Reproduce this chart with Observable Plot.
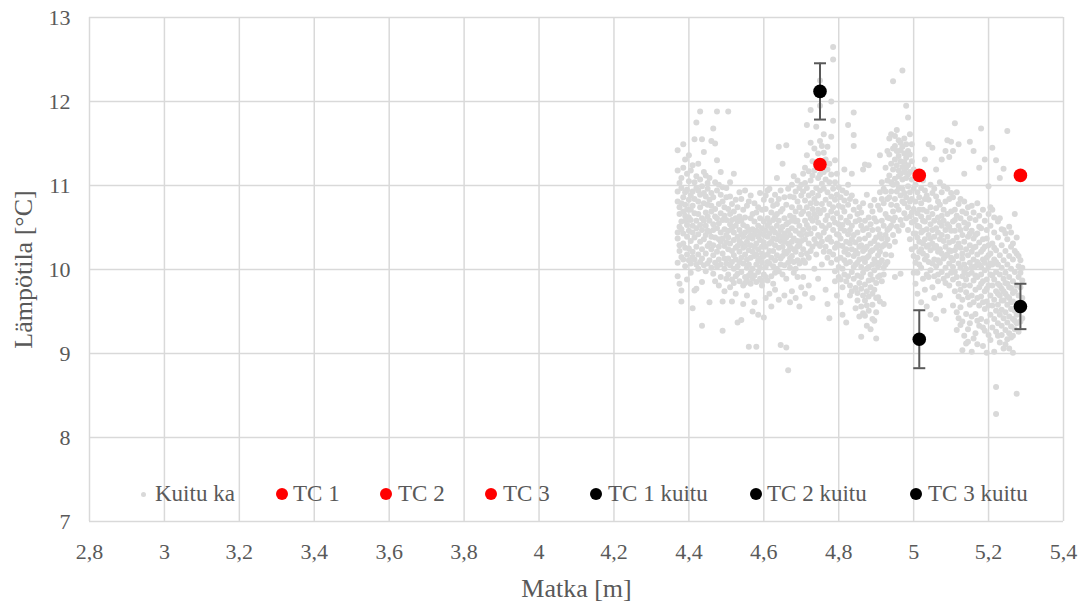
<!DOCTYPE html>
<html>
<head>
<meta charset="utf-8">
<script src="https://cdn.jsdelivr.net/npm/d3@7"></script>
<script src="https://cdn.jsdelivr.net/npm/@observablehq/plot@0.6"></script>
<style>
  body { margin: 0; background: #fff; }
  #wrap { position: relative; width: 1085px; height: 605px; font-family: "Liberation Serif", "Times New Roman", serif; }
  .legdot { position: absolute; border-radius: 50%; }
  .legtxt { position: absolute; font-size: 23px; color: #595959; line-height: 1; white-space: nowrap; }
</style>
</head>
<body>
<div id="wrap"></div>
<script>
// ---- data ----
const xTicks = [2.8, 3, 3.2, 3.4, 3.6, 3.8, 4, 4.2, 4.4, 4.6, 4.8, 5, 5.2, 5.4];
const yTicks = [7, 8, 9, 10, 11, 12, 13];

// TC sensor positions and readings
const tcX = [4.75, 5.015, 5.285];
const tcY = [11.25, 11.12, 11.12];
const tcKuituY = [12.12, 9.17, 9.56];
const tcKuituErr = [0.335, 0.345, 0.27];

const kuituRows = [
[4.370, 10.08, 10.37, 10.44, 10.81, 10.93, 11.18, 9.92, 11.42],
[4.375, 10.22, 10.29, 10.66, 10.74, 11.03, 9.83, 10.51],
[4.380, 10.15, 10.48, 10.57, 10.97, 11.09, 9.75, 9.62, 10.79],
[4.385, 10.31, 10.12, 10.69, 10.86, 11.49, 10.43, 11.21],
[4.390, 10.04, 10.58, 10.64, 10.92, 11.31, 10.26, 10.77],
[4.395, 10.39, 10.18, 10.71, 11.14, 9.88, 10.53, 10.95],
[4.400, 10.25, 10.46, 10.83, 10.62, 11.36, 10.11, 11.05],
[4.405, 10.34, 10.07, 10.59, 10.88, 11.18, 9.96, 10.71],
[4.410, 10.21, 10.44, 10.76, 10.93, 9.54, 10.15, 11.24, 10.52],
[4.415, 10.38, 10.12, 10.67, 11.04, 11.55, 9.75, 10.84],
[4.420, 10.27, 10.49, 10.58, 10.97, 11.75, 9.77, 10.06, 11.11],
[4.425, 10.42, 10.18, 10.81, 10.66, 11.26, 10.01, 10.94],
[4.430, 10.09, 10.33, 10.74, 10.53, 11.88, 11.07, 10.89],
[4.435, 10.24, 10.61, 10.47, 10.99, 11.55, 9.85, 9.33, 10.13],
[4.440, 10.36, 10.05, 10.79, 10.58, 11.4, 11.16, 10.91],
[4.445, 10.19, 10.52, 10.41, 10.87, 11.12, 10.68, 9.98],
[4.450, 10.28, 10.07, 10.63, 10.96, 10.46, 11.03, 10.77],
[4.455, 10.31, 10.11, 10.58, 10.83, 9.61, 11.09, 10.45],
[4.460, 10.02, 10.24, 10.69, 10.91, 11.53, 10.39, 10.76],
[4.465, 10.17, 10.54, 10.47, 11.68, 9.95, 10.86, 10.29],
[4.470, 10.38, 10.08, 10.72, 10.63, 11.5, 9.86, 11.04],
[4.475, 10.21, 10.49, 10.94, 11.88, 10.03, 11.3, 10.61],
[4.480, 10.12, 10.36, 10.78, 10.55, 11.01, 9.81, 10.27],
[4.485, 10.44, 10.06, 10.67, 10.89, 9.91, 11.16, 10.33],
[4.490, 10.19, 10.59, 10.37, 10.81, 9.62, 9.27, 10.98],
[4.495, 10.28, 10.01, 10.48, 10.74, 10.64, 9.74, 10.13],
[4.500, 10.07, 10.41, 10.32, 10.86, 10.59, 9.89, 10.97],
[4.505, 10.13, 9.94, 10.46, 10.38, 11.88, 10.72, 10.24],
[4.510, 10.31, 10.05, 10.66, 10.54, 9.79, 11.04, 10.87],
[4.515, 9.88, 10.22, 10.49, 10.78, 9.62, 10.09, 10.59],
[4.520, 10.17, 10.35, 10.01, 10.69, 9.84, 11.14, 10.44],
[4.525, 10.26, 9.92, 10.52, 10.83, 10.12, 9.71, 10.61],
[4.530, 10.04, 10.39, 10.28, 10.74, 9.37, 10.57, 9.95],
[4.535, 10.21, 9.86, 10.47, 10.63, 10.92, 10.09, 10.34],
[4.540, 9.97, 10.31, 10.14, 10.58, 9.4, 10.84, 10.42],
[4.545, 10.26, 10.07, 10.53, 10.39, 9.81, 9.59, 10.71],
[4.550, 9.91, 10.18, 10.44, 10.62, 9.84, 10.94, 10.28],
[4.555, 10.12, 10.33, 9.87, 10.76, 10.51, 9.69, 10.02],
[4.560, 10.23, 10.06, 10.47, 10.38, 9.08, 10.81, 9.93],
[4.565, 9.83, 10.14, 10.29, 10.61, 9.96, 10.88, 10.41],
[4.570, 10.01, 10.37, 10.21, 10.66, 9.5, 10.48, 9.89],
[4.575, 10.16, 9.93, 10.42, 10.57, 10.79, 9.61, 10.27],
[4.580, 10.06, 10.31, 9.85, 10.68, 9.08, 10.46, 10.18],
[4.585, 10.24, 9.97, 10.52, 10.39, 10.74, 9.46, 10.11],
[4.590, 9.89, 10.13, 10.35, 10.61, 10.02, 10.91, 10.44],
[4.595, 10.08, 10.27, 9.81, 10.49, 10.71, 9.86, 10.19],
[4.600, 10.32, 9.94, 10.16, 10.57, 10.83, 9.43, 10.41],
[4.605, 10.03, 10.27, 10.46, 9.91, 10.72, 9.66, 10.88],
[4.610, 10.18, 9.87, 10.39, 10.61, 10.94, 10.09, 10.52],
[4.615, 10.31, 10.07, 10.56, 10.43, 9.71, 10.96, 10.22],
[4.620, 9.92, 10.14, 10.49, 10.68, 10.82, 9.56, 10.33],
[4.625, 10.22, 10.04, 10.37, 10.76, 10.59, 9.83, 10.47],
[4.630, 10.11, 10.44, 9.96, 10.63, 10.89, 9.76, 10.29],
[4.635, 10.36, 10.17, 10.52, 10.78, 10.01, 11.09, 10.66],
[4.640, 9.98, 10.26, 10.41, 10.58, 11.46, 9.64, 10.84],
[4.645, 10.13, 10.34, 10.69, 10.47, 9.1, 10.94, 10.06],
[4.650, 10.27, 9.94, 10.51, 10.72, 11.26, 10.39, 10.16],
[4.655, 10.05, 10.43, 10.21, 10.61, 9.69, 10.86, 10.33],
[4.660, 10.19, 10.38, 9.89, 10.77, 11.48, 9.07, 10.54],
[4.665, 10.31, 10.08, 10.56, 10.46, 8.8, 10.96, 10.22],
[4.670, 10.02, 10.27, 10.64, 10.41, 10.87, 9.61, 10.13],
[4.675, 10.16, 10.49, 10.33, 10.74, 11.01, 9.74, 10.58],
[4.680, 10.37, 10.09, 10.62, 10.86, 9.96, 11.11, 10.24],
[4.685, 10.21, 10.46, 10.01, 10.69, 10.93, 9.66, 10.57],
[4.690, 10.11, 10.34, 10.58, 10.81, 10.27, 11.06, 9.91],
[4.695, 10.29, 10.52, 10.07, 10.74, 10.43, 9.56, 10.97],
[4.700, 10.18, 10.41, 10.66, 10.34, 11.01, 9.79, 10.88],
[4.705, 10.24, 10.47, 10.69, 10.93, 11.14, 9.91, 10.11],
[4.710, 10.36, 10.08, 10.58, 10.82, 11.21, 9.71, 11.03],
[4.715, 10.19, 10.53, 10.74, 10.97, 11.72, 11.36, 10.42],
[4.720, 10.31, 10.66, 10.14, 10.88, 11.17, 9.81, 10.49],
[4.725, 10.43, 10.22, 10.79, 11.06, 11.9, 11.51, 10.61],
[4.730, 10.27, 10.58, 10.91, 10.72, 11.29, 9.66, 11.12],
[4.735, 10.49, 10.36, 10.84, 11.18, 11.44, 10.01, 10.66],
[4.740, 10.31, 10.62, 10.97, 10.79, 11.7, 11.24, 10.18],
[4.745, 10.56, 10.41, 10.88, 11.09, 11.38, 9.89, 10.71],
[4.750, 10.39, 10.67, 10.94, 11.13, 11.53, 12.25, 11.95, 10.28],
[4.755, 10.52, 10.78, 10.33, 11.02, 11.47, 10.06, 11.26],
[4.760, 10.44, 10.71, 10.96, 11.16, 11.39, 11.61, 10.21],
[4.765, 10.27, 10.59, 10.83, 11.07, 11.31, 9.76, 10.49],
[4.770, 10.36, 10.64, 10.14, 10.92, 11.46, 9.59, 11.19],
[4.775, 10.21, 10.53, 10.78, 11.04, 11.26, 9.42, 10.38],
[4.780, 10.33, 10.08, 10.69, 10.87, 11.58, 12.0, 11.13],
[4.785, 10.18, 10.47, 10.74, 10.96, 12.65, 12.5, 11.77, 10.61],
[4.790, 10.26, 9.98, 10.56, 10.83, 11.3, 9.86, 11.04],
[4.795, 10.12, 10.42, 10.67, 10.31, 11.14, 9.69, 10.89],
[4.800, 10.03, 10.29, 10.54, 10.76, 10.98, 9.91, 10.41],
[4.805, 10.14, 9.88, 10.37, 10.62, 10.86, 9.61, 10.49],
[4.810, 10.01, 10.28, 9.79, 10.53, 10.74, 9.46, 10.94],
[4.815, 10.21, 9.94, 10.46, 10.69, 10.11, 11.19, 10.82],
[4.820, 10.07, 10.33, 9.86, 10.58, 10.91, 9.37, 10.24],
[4.825, 9.92, 10.18, 10.42, 10.77, 11.72, 11.01, 10.56],
[4.830, 10.09, 9.81, 10.31, 10.63, 10.47, 9.69, 10.84],
[4.835, 10.24, 9.97, 10.52, 10.36, 10.88, 11.14, 9.74],
[4.840, 9.89, 10.16, 10.41, 10.71, 11.87, 11.6, 11.47, 10.03],
[4.845, 10.06, 10.32, 9.78, 10.57, 10.81, 9.54, 10.22],
[4.850, 9.93, 10.19, 10.44, 9.72, 10.66, 9.63, 10.08],
[4.855, 10.12, 9.84, 10.36, 10.59, 10.27, 9.44, 10.74],
[4.860, 9.77, 10.03, 10.29, 9.91, 10.52, 9.2, 10.68, 9.56],
[4.865, 9.96, 10.22, 9.69, 10.47, 10.13, 11.19, 10.79, 9.48],
[4.870, 9.82, 10.09, 10.37, 9.63, 10.58, 9.45, 11.25, 10.24],
[4.875, 10.01, 9.74, 10.27, 10.49, 10.89, 9.33, 10.14, 9.57],
[4.880, 9.87, 10.16, 9.68, 10.41, 10.62, 11.24, 10.03, 9.51],
[4.885, 9.94, 10.31, 9.79, 10.54, 10.21, 9.29, 10.76],
[4.890, 9.71, 10.06, 10.23, 9.88, 10.47, 9.41, 10.69, 9.58],
[4.895, 9.99, 9.76, 10.34, 10.12, 10.61, 9.39, 10.83],
[4.900, 9.84, 10.08, 9.66, 10.38, 10.57, 9.18, 10.26, 9.49],
[4.905, 10.04, 9.91, 10.29, 10.48, 10.76, 9.67, 10.17],
[4.910, 9.93, 10.21, 10.42, 10.08, 10.71, 11.36, 10.92, 9.62],
[4.915, 10.11, 9.86, 10.37, 10.58, 10.84, 11.04, 10.27],
[4.920, 10.02, 10.29, 10.52, 9.94, 10.79, 9.59, 10.96],
[4.925, 10.18, 10.41, 10.06, 10.66, 10.93, 11.21, 10.31],
[4.930, 10.09, 10.36, 10.62, 10.47, 11.06, 11.41, 10.84],
[4.935, 10.28, 10.61, 10.86, 11.12, 11.37, 11.56, 10.49],
[4.940, 10.17, 10.52, 10.77, 11.04, 11.26, 11.61, 10.93],
[4.945, 10.41, 10.69, 11.01, 11.19, 11.44, 12.24, 10.58],
[4.950, 10.33, 10.84, 11.08, 11.31, 11.59, 9.91, 10.62, 11.47],
[4.955, 10.51, 10.76, 11.02, 11.24, 11.41, 11.66, 10.93],
[4.960, 10.46, 10.71, 10.97, 11.18, 11.35, 11.54, 11.11],
[4.965, 10.59, 10.88, 11.14, 11.29, 11.51, 9.95, 11.42],
[4.970, 10.53, 10.81, 11.07, 11.22, 11.46, 12.37, 10.96],
[4.975, 10.67, 10.91, 11.16, 11.38, 11.56, 11.28, 10.79],
[4.980, 10.61, 10.86, 11.09, 11.33, 11.49, 11.95, 11.21],
[4.985, 10.47, 10.74, 10.99, 11.24, 11.41, 11.81, 11.13],
[4.990, 10.36, 10.63, 10.92, 11.16, 11.37, 11.61, 10.81],
[4.995, 10.24, 10.56, 10.84, 11.07, 11.29, 11.49, 10.68],
[5.000, 10.16, 10.43, 10.72, 10.96, 11.19, 9.96, 10.57],
[5.005, 10.27, 10.08, 10.59, 10.81, 11.01, 9.83, 10.43],
[5.010, 10.14, 10.38, 9.96, 10.67, 10.92, 9.71, 10.52],
[5.015, 10.33, 10.51, 10.06, 10.86, 11.09, 10.71, 10.21],
[5.020, 10.02, 10.24, 10.63, 10.44, 10.97, 9.61, 10.79],
[5.025, 10.19, 10.46, 10.71, 10.31, 11.06, 9.89, 10.58],
[5.030, 10.36, 10.12, 10.57, 10.84, 11.31, 9.76, 10.94],
[5.035, 9.94, 10.27, 10.48, 10.69, 10.16, 9.56, 10.88],
[5.040, 10.09, 10.41, 10.62, 10.29, 11.49, 9.91, 10.83],
[5.045, 10.23, 9.99, 10.54, 10.74, 11.01, 9.46, 10.37],
[5.050, 10.31, 10.07, 10.66, 10.47, 11.45, 9.79, 10.91],
[5.055, 10.12, 10.39, 9.92, 10.58, 10.96, 9.66, 10.26],
[5.060, 10.04, 10.28, 10.49, 10.73, 11.19, 9.41, 10.87],
[5.065, 10.21, 9.94, 10.44, 10.62, 10.11, 9.86, 10.81],
[5.070, 10.36, 10.08, 10.56, 10.77, 11.04, 9.69, 10.24],
[5.075, 9.97, 10.19, 10.41, 10.64, 10.92, 11.31, 10.52],
[5.080, 10.13, 10.34, 9.89, 10.58, 10.99, 9.51, 10.71],
[5.085, 10.02, 10.27, 10.47, 10.81, 10.16, 11.41, 9.84],
[5.090, 10.18, 9.93, 10.39, 10.66, 10.96, 11.54, 10.54],
[5.095, 10.07, 10.32, 9.81, 10.51, 10.84, 11.34, 10.23],
[5.100, 9.96, 10.22, 10.46, 10.69, 10.14, 11.52, 10.91],
[5.105, 10.11, 9.88, 10.34, 10.57, 10.86, 11.41, 10.03, 9.57],
[5.110, 9.97, 10.23, 10.46, 9.74, 10.71, 11.74, 10.59],
[5.115, 10.16, 9.91, 10.38, 10.64, 10.92, 9.49, 10.27, 9.28],
[5.120, 9.83, 10.07, 10.31, 10.52, 10.78, 11.49, 9.68, 9.42],
[5.125, 10.02, 9.76, 10.26, 10.47, 10.84, 9.34, 10.61, 9.55],
[5.130, 9.92, 10.19, 9.64, 10.41, 10.69, 9.04, 10.13, 9.38],
[5.135, 10.06, 9.81, 10.33, 10.56, 10.81, 11.14, 9.97, 9.21],
[5.140, 9.73, 10.01, 10.24, 9.88, 10.49, 9.12, 10.67, 9.47],
[5.145, 9.94, 10.17, 9.67, 10.39, 10.74, 9.29, 10.54, 9.14],
[5.150, 9.81, 10.08, 10.29, 9.58, 10.61, 11.52, 10.43, 9.36],
[5.155, 9.69, 9.96, 10.21, 10.46, 10.03, 9.02, 10.76, 9.44],
[5.160, 9.87, 10.12, 9.61, 10.37, 10.68, 11.41, 10.26, 9.18],
[5.165, 9.76, 10.04, 10.27, 9.93, 10.59, 9.24, 10.41, 9.47],
[5.170, 9.91, 9.66, 10.18, 10.43, 10.79, 9.39, 10.09, 9.11],
[5.175, 9.79, 10.06, 9.57, 10.32, 10.64, 11.21, 10.51, 9.33],
[5.180, 9.68, 9.94, 10.21, 10.03, 10.49, 11.68, 9.83, 9.41],
[5.185, 9.86, 9.61, 10.12, 10.36, 10.71, 9.31, 10.24, 9.09],
[5.190, 9.74, 9.99, 10.27, 9.53, 10.58, 11.31, 10.08, 9.27],
[5.195, 9.62, 9.88, 10.14, 10.37, 9.77, 9.01, 10.47, 9.38],
[5.200, 9.81, 10.04, 9.57, 10.29, 10.66, 10.99, 10.17, 9.22],
[5.205, 9.69, 9.94, 10.19, 9.46, 10.52, 9.16, 10.07, 10.74],
[5.210, 9.81, 9.57, 10.06, 10.31, 10.71, 11.45, 9.93, 9.31],
[5.215, 9.64, 9.88, 10.12, 9.41, 10.44, 9.02, 10.26, 10.62],
[5.220, 9.74, 9.51, 9.97, 10.23, 11.3, 8.28, 8.6, 10.09, 9.26],
[5.225, 9.58, 9.83, 10.06, 9.36, 10.38, 9.21, 9.71, 10.57],
[5.230, 9.69, 9.46, 9.94, 10.17, 10.61, 11.09, 9.81, 9.13],
[5.235, 9.52, 9.77, 10.02, 9.33, 10.29, 9.22, 9.63, 10.48],
[5.240, 9.63, 9.42, 9.89, 10.11, 10.47, 11.2, 9.74, 9.06],
[5.245, 9.49, 9.71, 9.96, 9.28, 10.22, 9.11, 9.84, 10.43],
[5.250, 9.58, 9.37, 9.83, 10.06, 10.36, 11.65, 9.68, 9.17],
[5.255, 9.44, 9.66, 9.91, 9.24, 10.16, 9.06, 9.79, 10.51],
[5.260, 9.53, 9.32, 9.78, 10.01, 10.27, 9.19, 9.61, 10.44],
[5.265, 9.41, 9.62, 9.86, 9.21, 10.12, 9.01, 9.72, 10.31],
[5.270, 9.51, 9.29, 9.74, 9.97, 10.66, 9.39, 10.22],
[5.275, 9.36, 9.58, 9.81, 9.46, 10.19, 8.52, 10.38],
[5.280, 9.47, 9.26, 9.69, 9.91, 10.04, 9.59, 10.16],
[5.285, 9.38, 9.61, 9.79, 9.96, 10.11],
[5.290, 9.42, 9.66, 9.87, 10.02]
];

const legendLabels = ["Kuitu ka", "TC 1", "TC 2", "TC 3", "TC 1 kuitu", "TC 2 kuitu", "TC 3 kuitu"];
const legendColors = ["#d9d9d9", "#ff0000", "#ff0000", "#ff0000", "#000000", "#000000", "#000000"];

// ---- derived tables ----
const kuitu = kuituRows.flatMap(([x, ...ys]) => ys.map(y => ({x, y})));
const tc = tcX.map((x, i) => ({x, y: tcY[i]}));
const tcK = tcX.map((x, i) => ({x, y: tcKuituY[i], lo: tcKuituY[i] - tcKuituErr[i], hi: tcKuituY[i] + tcKuituErr[i]}));

const fmt = d => String(d).replace(".", ",");
const capSymbol = {
  draw(context, size) {
    const r = Math.sqrt(size / Math.PI);
    context.moveTo(-r, 0);
    context.lineTo(r, 0);
  }
};

const chart = Plot.plot({
  width: 1085,
  height: 605,
  marginLeft: 89,
  marginRight: 22,
  marginTop: 17,
  marginBottom: 84,
  style: { fontFamily: "'Liberation Serif', 'Times New Roman', serif", fontSize: "22px", color: "#595959", background: "#fff" },
  x: { domain: [2.8, 5.4] },
  y: { domain: [7, 13] },
  marks: [
    Plot.gridX(xTicks, { stroke: "#d9d9d9", strokeOpacity: 1, strokeWidth: 1.5 }),
    Plot.gridY(yTicks, { stroke: "#d9d9d9", strokeOpacity: 1, strokeWidth: 1.5 }),
    Plot.axisX(xTicks, { tickSize: 0, tickPadding: 22, tickFormat: fmt, label: null, fill: "#595959", fontSize: 22 }),
    Plot.axisY(yTicks, { tickSize: 0, tickPadding: 19, tickFormat: fmt, label: null, fill: "#595959", fontSize: 22 }),
    Plot.text(["Matka [m]"], { frameAnchor: "bottom", lineAnchor: "middle", dy: 67, fontSize: 26, fill: "#595959" }),
    Plot.text(["Lämpötila [°C]"], { frameAnchor: "left", textAnchor: "middle", lineAnchor: "middle", dx: -66, rotate: -90, fontSize: 26, fill: "#595959" }),
    Plot.dot(kuitu, { x: "x", y: "y", r: 3, fill: "#d9d9d9" }),
    Plot.dot(tc, { x: "x", y: "y", r: 6.8, fill: "#ff0000" }),
    Plot.ruleX(tcK, { x: "x", y1: "lo", y2: "hi", stroke: "#595959", strokeWidth: 2 }),
    Plot.dot(tcK, { x: "x", y: "lo", r: 6, symbol: capSymbol, stroke: "#595959", strokeWidth: 2, fill: "none" }),
    Plot.dot(tcK, { x: "x", y: "hi", r: 6, symbol: capSymbol, stroke: "#595959", strokeWidth: 2, fill: "none" }),
    Plot.dot(tcK, { x: "x", y: "y", r: 6.8, fill: "#000000" })
  ]
});

const wrap = document.getElementById("wrap");
wrap.appendChild(chart);

// legend (inside plot area, bottom)
const legDotX = [143, 282, 386, 491, 596, 756, 916];
const legDotR = [2.5, 6, 6, 6, 6, 6, 6];
const legTextX = [155, 293, 398, 503, 608, 767, 928];
const legY = 494;
legendLabels.forEach((lab, i) => {
  const d = document.createElement("div");
  d.className = "legdot";
  const r = legDotR[i];
  d.style.left = (legDotX[i] - r) + "px";
  d.style.top = (legY - r) + "px";
  d.style.width = (2 * r) + "px";
  d.style.height = (2 * r) + "px";
  d.style.background = legendColors[i];
  wrap.appendChild(d);
  const t = document.createElement("div");
  t.className = "legtxt";
  t.textContent = lab;
  t.style.left = legTextX[i] + "px";
  t.style.top = (legY - 12) + "px";
  wrap.appendChild(t);
});
</script>
</body>
</html>
